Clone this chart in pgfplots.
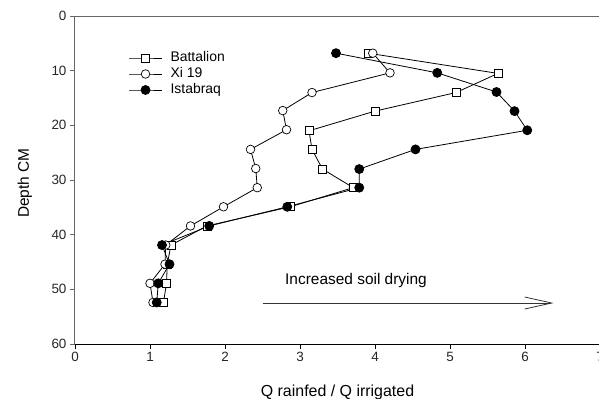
\documentclass[border=0pt]{standalone}
\usepackage{fontspec}
\setmainfont{Liberation Sans}
\usepackage{pgfplots}
\pgfplotsset{compat=1.18}
\usetikzlibrary{arrows.meta}
\begin{document}
\begin{tikzpicture}[x=1bp,y=1bp]
\begin{axis}[
  at={(0,0)}, anchor=south west,
  scale only axis, width=525bp, height=328bp,
  xmin=0, xmax=7, ymin=0, ymax=60, y dir=reverse,
  xtick={0,1,...,7}, ytick={0,10,...,60},
  tick align=outside, major tick length=5bp,
  xtick pos=left, ytick pos=left,
  xticklabel pos=left,
  axis line style={draw=none},
  x tick style={black, line width=0.8bp},
  y tick style={black!60, line width=0.8bp},
  ticklabel style={font=\fontsize{13.5}{16}\selectfont, text=black!85},
  /pgf/number format/assume math mode=true,
  clip=false,
  legend style={at={(axis cs:0.67,6.0)}, anchor=north west, draw=none, fill=none,
    font=\fontsize{14}{16}\selectfont, column sep=8bp, row sep=2bp,
    nodes={inner sep=0pt, text height=10.5bp, text depth=3.5bp}},
  legend cell align=left,
  legend image code/.code={\draw[mark repeat=2,mark phase=2] plot coordinates {(0bp,0bp)(16.7bp,0bp)(33.3bp,0bp)};},
]
\addplot[black, line width=0.8bp, mark=square*, mark size=4bp, mark options={fill=white, line width=0.7bp}] coordinates {
(3.91,6.8)(5.64,10.5)(5.08,14.0)(4.00,17.4)(3.12,21.0)(3.16,24.4)(3.30,28.0)(3.71,31.4)(2.87,34.9)(1.76,38.4)(1.28,41.9)(1.23,45.4)(1.22,48.9)(1.18,52.4)};
\addlegendentry{Battalion}
\addplot[black, line width=0.8bp, mark=*, mark size=4.3bp, mark options={fill=white, line width=0.7bp}] coordinates {
(3.97,6.8)(4.20,10.4)(3.16,14.0)(2.77,17.3)(2.82,20.8)(2.34,24.4)(2.41,27.9)(2.43,31.4)(1.98,34.9)(1.54,38.4)(1.21,41.9)(1.20,45.4)(1.00,48.9)(1.04,52.4)};
\addlegendentry{Xi 19}
\addplot[black, line width=0.8bp, mark=*, mark size=4.5bp, mark options={fill=black}] coordinates {
(3.48,6.8)(4.83,10.4)(5.62,13.9)(5.86,17.4)(6.03,20.9)(4.54,24.4)(3.79,28.0)(3.79,31.4)(2.83,34.9)(1.79,38.4)(1.16,41.9)(1.26,45.4)(1.11,48.9)(1.09,52.4)};
\addlegendentry{Istabraq}
\draw[black!60, line width=1bp] (axis cs:0,60) -- (axis cs:0,0) -- (axis cs:7.2,0);
\draw[black, line width=1bp] (axis cs:0,60) -- (axis cs:7.2,60);
\node[anchor=west, inner sep=0pt, font=\fontsize{15.5}{18}\selectfont] at (axis cs:2.8,48.4) {Increased soil drying};
\draw[black!80, line width=0.8bp, -{Straight Barb[length=27bp,width=12bp]}] (axis cs:2.51,52.5) -- (axis cs:6.38,52.5);
\end{axis}
\node[font=\fontsize{16}{19}\selectfont] at (262.5,-48) {Q rainfed / Q irrigated};
\node[rotate=90, font=\fontsize{15.5}{18}\selectfont] at (-50,161) {Depth CM};
\pgfresetboundingbox
\useasboundingbox (-75,-54) rectangle (524,344);
\end{tikzpicture}
\end{document}
